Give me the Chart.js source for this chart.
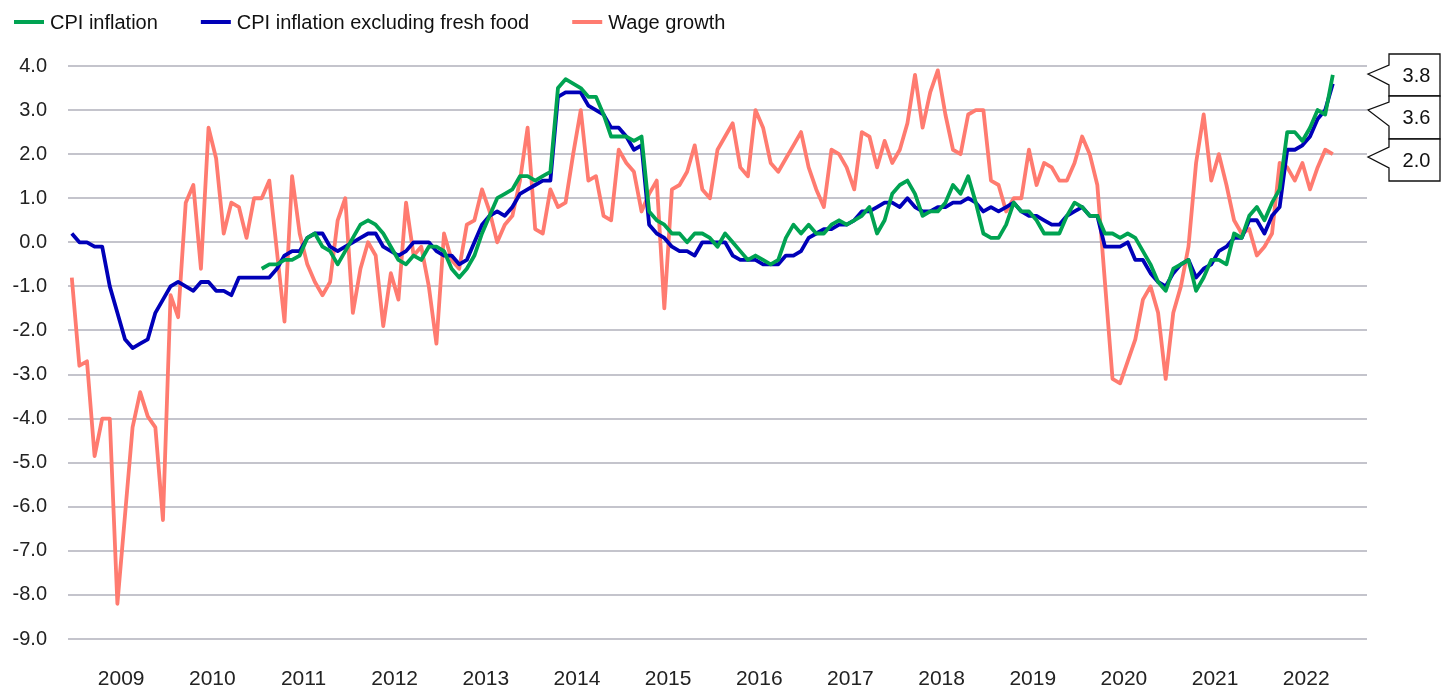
<!DOCTYPE html>
<html>
<head>
<meta charset="utf-8">
<script src="https://cdn.jsdelivr.net/npm/chart.js@4.4.1/dist/chart.umd.min.js"></script>
<style>
  html, body { margin: 0; padding: 0; background: #fff; }
  #wrap { width: 1451px; height: 690px; position: relative; }
</style>
</head>
<body>
<div id="wrap"><canvas id="chart"></canvas></div>
<script>
// ------------------------
// Data (monthly, first point = Dec 2008)
// ------------------------
const START_YEAR = 2008;
const START_MONTH = 11; // December
const N_MONTHS = 171;   // axis length, data stops at Oct 2022

const yearLabels = [2009, 2010, 2011, 2012, 2013, 2014, 2015, 2016, 2017, 2018, 2019, 2020, 2021, 2022];

const cpiInflation = [
  null, null, null, null, null, null, null, null, null, null,
  null, null, null, null, null, null, null, null, null, null,
  null, null, null, null, null, -0.6, -0.5, -0.5, -0.4, -0.4,
  -0.3, 0.1, 0.2, -0.1, -0.2, -0.5, -0.2, 0.1, 0.4, 0.5,
  0.4, 0.2, -0.1, -0.4, -0.5, -0.3, -0.4, -0.1, -0.1, -0.2,
  -0.6, -0.8, -0.6, -0.3, 0.2, 0.6, 1.0, 1.1, 1.2, 1.5,
  1.5, 1.4, 1.5, 1.6, 3.5, 3.7, 3.6, 3.5, 3.3, 3.3,
  2.9, 2.4, 2.4, 2.4, 2.3, 2.4, 0.7, 0.5, 0.4, 0.2,
  0.2, 0.0, 0.2, 0.2, 0.1, -0.1, 0.2, 0.0, -0.2, -0.4,
  -0.3, -0.4, -0.5, -0.4, 0.1, 0.4, 0.2, 0.4, 0.2, 0.2,
  0.4, 0.5, 0.4, 0.5, 0.6, 0.8, 0.2, 0.5, 1.1, 1.3,
  1.4, 1.1, 0.6, 0.7, 0.7, 0.9, 1.3, 1.1, 1.5, 0.9,
  0.2, 0.1, 0.1, 0.4, 0.9, 0.7, 0.7, 0.5, 0.2, 0.2,
  0.2, 0.6, 0.9, 0.8, 0.6, 0.6, 0.2, 0.2, 0.1, 0.2,
  0.1, -0.2, -0.5, -0.9, -1.1, -0.6, -0.5, -0.4, -1.1, -0.8,
  -0.4, -0.4, -0.5, 0.2, 0.1, 0.6, 0.8, 0.5, 0.9, 1.2,
  2.5, 2.5, 2.3, 2.6, 3.0, 2.9, 3.8
];

const cpiExFreshFood = [
  0.2, 0.0, 0.0, -0.1, -0.1, -1.0, -1.6, -2.2, -2.4, -2.3,
  -2.2, -1.6, -1.3, -1.0, -0.9, -1.0, -1.1, -0.9, -0.9, -1.1,
  -1.1, -1.2, -0.8, -0.8, -0.8, -0.8, -0.8, -0.6, -0.3, -0.2,
  -0.2, 0.1, 0.2, 0.2, -0.1, -0.2, -0.1, 0.0, 0.1, 0.2,
  0.2, -0.1, -0.2, -0.3, -0.2, 0.0, 0.0, 0.0, -0.2, -0.3,
  -0.3, -0.5, -0.4, 0.0, 0.4, 0.6, 0.7, 0.6, 0.8, 1.1,
  1.2, 1.3, 1.4, 1.4, 3.3, 3.4, 3.4, 3.4, 3.1, 3.0,
  2.9, 2.6, 2.6, 2.4, 2.1, 2.2, 0.4, 0.2, 0.1, -0.1,
  -0.2, -0.2, -0.3, 0.0, 0.0, 0.0, 0.0, -0.3, -0.4, -0.4,
  -0.4, -0.5, -0.5, -0.5, -0.3, -0.3, -0.2, 0.1, 0.2, 0.3,
  0.3, 0.4, 0.4, 0.5, 0.7, 0.7, 0.8, 0.9, 0.9, 0.8,
  1.0, 0.8, 0.7, 0.7, 0.8, 0.8, 0.9, 0.9, 1.0, 0.9,
  0.7, 0.8, 0.7, 0.8, 0.9, 0.7, 0.6, 0.6, 0.5, 0.4,
  0.4, 0.6, 0.7, 0.8, 0.6, 0.6, -0.1, -0.1, -0.1, 0.0,
  -0.4, -0.4, -0.7, -0.9, -1.0, -0.7, -0.5, -0.4, -0.8, -0.6,
  -0.5, -0.2, -0.1, 0.1, 0.1, 0.5, 0.5, 0.2, 0.6, 0.8,
  2.1, 2.1, 2.2, 2.4, 2.8, 3.0, 3.6
];

const wageGrowth = [
  -0.8, -2.8, -2.7, -4.85, -4.0, -4.0, -8.2, -6.2, -4.2, -3.4,
  -3.95, -4.2, -6.3, -1.2, -1.7, 0.9, 1.3, -0.6, 2.6, 1.9,
  0.2, 0.9, 0.8, 0.1, 1.0, 1.0, 1.4, -0.2, -1.8, 1.5,
  0.2, -0.5, -0.9, -1.2, -0.9, 0.5, 1.0, -1.6, -0.6, 0.0,
  -0.3, -1.9, -0.7, -1.3, 0.9, -0.3, -0.1, -1.0, -2.3, 0.2,
  -0.4, -0.6, 0.4, 0.5, 1.2, 0.7, 0.0, 0.4, 0.6, 1.4,
  2.6, 0.3, 0.2, 1.2, 0.8, 0.9, 2.0, 3.0, 1.4, 1.5,
  0.6, 0.5, 2.1, 1.8, 1.6, 0.7, 1.1, 1.4, -1.5, 1.2,
  1.3, 1.6, 2.2, 1.2, 1.0, 2.1, 2.4, 2.7, 1.7, 1.5,
  3.0, 2.6, 1.8, 1.6, 1.9, 2.2, 2.5, 1.7, 1.2, 0.8,
  2.1, 2.0, 1.7, 1.2, 2.5, 2.4, 1.7, 2.3, 1.8, 2.1,
  2.7, 3.8, 2.6, 3.4, 3.9, 2.9, 2.1, 2.0, 2.9, 3.0,
  3.0, 1.4, 1.3, 0.7, 1.0, 1.0, 2.1, 1.3, 1.8, 1.7,
  1.4, 1.4, 1.8, 2.4, 2.0, 1.3, -0.9, -3.1, -3.2, -2.7,
  -2.2, -1.3, -1.0, -1.6, -3.1, -1.6, -1.0, -0.1, 1.8, 2.9,
  1.4, 2.0, 1.3, 0.5, 0.2, 0.3, -0.3, -0.1, 0.2, 1.8,
  1.7, 1.4, 1.8, 1.2, 1.7, 2.1, 2.0
];

const Y_MIN = -9;
const Y_MAX = 4;

// month categories, "YYYY-MM"
const months = [];
for (let i = 0; i < N_MONTHS; i++) {
    const m = START_MONTH + i;
    const y = START_YEAR + Math.floor(m / 12);
    months.push(y + "-" + String((m % 12) + 1).padStart(2, "0"));
}

const FONT = '"Liberation Sans", Arial, sans-serif';
const COLORS = { cpi: "#00A352", core: "#0000B8", wage: "#FF7B70" };

// ------------------------
// Legend drawn across the top-left
// ------------------------
const topLegend = {
    id: "topLegend",
    afterDraw(chart) {
        const ctx = chart.ctx;
        ctx.save();
        ctx.font = "20px " + FONT;
        ctx.textBaseline = "middle";
        let x = 14;
        chart.data.datasets.forEach(ds => {
            ctx.fillStyle = ds.borderColor;
            ctx.fillRect(x, 20, 30, 4);
            ctx.fillStyle = "#111";
            ctx.fillText(ds.label, x + 36, 23);
            x += 36 + ctx.measureText(ds.label).width + 43;
        });
        ctx.restore();
    }
};

// ------------------------
// Value callouts at the right
// ------------------------
const callouts = {
    id: "callouts",
    afterDraw(chart) {
        const ctx = chart.ctx;
        const lastVals = chart.data.datasets.map(ds => ds.data[ds.data.length - 1]);
        // box top / bottom and wedge (upper, tip, lower) per box
        const boxes = [
            { top: 54, bottom: 96, wa: 65, tip: 74, wb: 85 },
            { top: 96, bottom: 139, wa: 102, tip: 110, wb: 126 },
            { top: 139, bottom: 181, wa: 147, tip: 157, wb: 168 },
        ];
        const x1 = 1389, x2 = 1440, tipX = 1368;
        ctx.save();
        ctx.lineWidth = 1.3;
        ctx.strokeStyle = "#111";
        ctx.font = "20px " + FONT;
        ctx.textAlign = "center";
        ctx.textBaseline = "middle";
        boxes.forEach((b, k) => {
            ctx.beginPath();
            ctx.moveTo(x1, b.top);
            ctx.lineTo(x2, b.top);
            ctx.lineTo(x2, b.bottom);
            ctx.lineTo(x1, b.bottom);
            ctx.lineTo(x1, b.wb);
            ctx.lineTo(tipX, b.tip);
            ctx.lineTo(x1, b.wa);
            ctx.closePath();
            ctx.fillStyle = "#fff";
            ctx.fill();
            ctx.stroke();
            ctx.fillStyle = "#111";
            ctx.fillText(lastVals[k].toFixed(1), (x1 + x2) / 2 + 2, (b.top + b.bottom) / 2 + 1);
        });
        ctx.restore();
    }
};

const lineDs = (label, data, color) => ({
    label, data,
    borderColor: color,
    backgroundColor: color,
    borderWidth: 3.8,
    pointRadius: 0,
    tension: 0,
    spanGaps: false,
    borderJoinStyle: "round",
});

new Chart(document.getElementById("chart"), {
    type: "line",
    data: {
        labels: months,
        datasets: [
            lineDs("CPI inflation", cpiInflation, COLORS.cpi),
            lineDs("CPI inflation excluding fresh food", cpiExFreshFood, COLORS.core),
            lineDs("Wage growth", wageGrowth, COLORS.wage),
        ]
    },
    options: {
        responsive: true,
        maintainAspectRatio: false,
        devicePixelRatio: 1,
        animation: false,
        layout: { padding: { top: 66, right: 84, left: 0, bottom: 0 } },
        plugins: {
            legend: { display: false },
            tooltip: { enabled: false },
        },
        scales: {
            x: {
                type: "category",
                offset: true,
                grid: { display: false, drawTicks: false },
                border: { display: false },
                afterFit: s => { s.height = 51; },
                ticks: {
                    autoSkip: false,
                    maxRotation: 0,
                    padding: 28,
                    labelOffset: 3.8,
                    color: "#222",
                    font: { family: FONT, size: 21 },
                    callback: (v, i) => {
                        const m = (START_MONTH + i) % 12;
                        const y = START_YEAR + Math.floor((START_MONTH + i) / 12);
                        return (m === 5 && yearLabels.includes(y)) ? String(y) : "";
                    }
                }
            },
            y: {
                min: Y_MIN,
                max: Y_MAX,
                grid: { color: "#c4c4cc", lineWidth: 2, drawTicks: false },
                border: { display: false },
                afterFit: s => { s.width = 68; },
                ticks: {
                    stepSize: 1,
                    padding: 21,
                    color: "#222",
                    font: { family: FONT, size: 20 },
                    callback: v => v.toFixed(1)
                }
            }
        }
    },
    plugins: [topLegend, callouts]
});
</script>
</body>
</html>
